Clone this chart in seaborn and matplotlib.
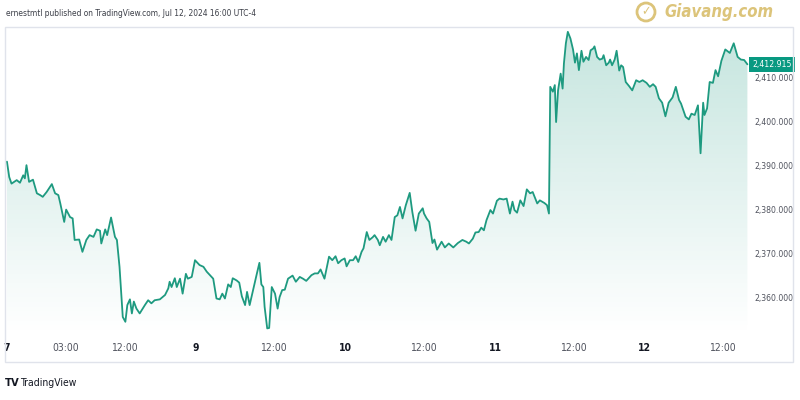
import numpy as np
import pandas as pd
import seaborn as sns
import matplotlib.pyplot as plt
import matplotlib.transforms as mtransforms
from matplotlib.patches import Rectangle, Circle
from matplotlib import font_manager

# Gold spot, trading hours since Jul 7 18:00 (UTC-4), session gaps removed
hours = [0.0, 0.35, 0.7, 1.5, 2.0, 2.5, 2.75, 3.0, 3.4, 4.0, 4.6, 5.1, 5.5, 6.1, 6.9, 7.4, 7.9,
         8.2, 8.8, 9.1, 9.7, 10.1, 10.4, 11.1, 11.6, 12.2, 12.7, 13.3, 13.8, 14.3, 14.5, 15.1,
         15.4, 16.0, 16.6, 16.9, 17.3, 17.8, 18.2, 18.5, 18.9, 19.2, 19.5, 19.9, 20.4, 21.2,
         21.7, 22.2, 22.7, 23.5, 24.3, 24.8, 25.0, 25.3, 25.8, 26.1, 26.6, 27.0, 27.5, 27.8,
         28.4, 28.9, 29.6, 30.2, 30.7, 31.2, 31.7, 32.2, 32.7, 33.1, 33.5, 34.0, 34.4, 34.7,
         35.3, 35.7, 36.1, 36.6, 36.9, 37.3, 37.7, 38.4, 38.8, 39.1, 39.4, 39.6, 40.0, 40.3,
         40.7, 41.2, 41.6, 41.9, 42.3, 42.7, 43.2, 43.9, 44.4, 45.0, 45.5, 46.0, 46.8, 47.3,
         47.8, 48.2, 48.8, 49.5, 50.0, 50.5, 50.9, 51.4, 51.9, 52.2, 52.7, 53.2, 53.6, 54.0,
         54.5, 54.8, 55.3, 55.7, 56.2, 56.5, 57.0, 57.3, 57.8, 58.2, 58.7, 59.1, 59.6, 60.0,
         60.4, 60.8, 61.3, 61.9, 62.3, 62.8, 63.3, 63.9, 64.1, 64.5, 64.9, 65.4, 65.7, 66.1,
         66.8, 67.3, 67.9, 68.6, 69.3, 70.0, 70.6, 71.0, 71.6, 72.0, 72.5, 72.9, 73.3, 73.7,
         74.3, 74.7, 75.3, 75.7, 76.3, 76.8, 77.3, 77.7, 78.0, 78.4, 78.9, 79.4, 79.9, 80.4,
         80.8, 81.5, 81.9, 82.6, 83.0, 83.3, 83.5, 83.9, 84.2, 84.4, 84.7, 85.1, 85.4, 85.6,
         85.9, 86.2, 86.6, 87.0, 87.3, 87.6, 87.9, 88.3, 88.6, 89.0, 89.4, 89.7, 90.1, 90.3,
         90.7, 91.1, 91.5, 91.7, 92.1, 92.5, 92.7, 93.0, 93.4, 93.7, 94.1, 94.4, 94.7, 95.1,
         95.6, 96.1, 96.7, 97.2, 97.7, 98.3, 98.8, 99.3, 99.7, 100.2, 100.7, 101.2, 101.7,
         102.3, 102.8, 103.3, 103.6, 103.9, 104.3, 104.8, 105.2, 105.7, 106.2, 106.6, 107.0,
         107.2, 107.6, 108.0, 108.5, 108.9, 109.3, 109.8, 110.4, 111.1, 111.7, 112.3, 112.8,
         113.3, 113.8]

price = [2390.8, 2387.3, 2385.8, 2386.6, 2386.0, 2387.7, 2387.0, 2390.0, 2386.2, 2386.7, 2383.6,
         2383.2, 2382.8, 2383.9, 2385.7, 2383.6, 2383.2, 2381.3, 2377.1, 2379.9, 2378.2, 2377.9,
         2373.0, 2373.1, 2370.3, 2373.0, 2374.1, 2373.7, 2375.4, 2375.1, 2372.2, 2375.4, 2374.1,
         2378.1, 2373.7, 2373.0, 2366.9, 2355.5, 2354.4, 2358.2, 2359.5, 2356.3, 2359.0, 2357.4,
         2356.3, 2358.2, 2359.3, 2358.6, 2359.3, 2359.5, 2360.5, 2362.0, 2363.5, 2362.3, 2364.3,
         2362.3, 2364.2, 2360.8, 2365.3, 2364.2, 2364.6, 2368.4, 2367.3, 2366.9, 2365.8, 2365.0,
         2364.2, 2359.7, 2359.5, 2360.8, 2359.7, 2362.9, 2362.3, 2364.3, 2363.8, 2363.3, 2360.2,
         2358.2, 2361.2, 2358.2, 2360.8, 2365.3, 2367.8, 2362.9, 2362.3, 2357.8, 2352.9, 2353.0,
         2362.3, 2360.8, 2357.4, 2360.0, 2361.6, 2361.7, 2364.2, 2364.9, 2363.5, 2364.6, 2364.2,
         2363.7, 2365.0, 2365.4, 2365.4, 2366.3, 2364.2, 2369.2, 2368.4, 2369.3, 2367.7, 2368.4,
         2368.8, 2367.0, 2368.4, 2368.4, 2369.3, 2368.0, 2370.3, 2371.1, 2374.8, 2373.0, 2373.6,
         2374.1, 2373.0, 2371.8, 2373.7, 2372.6, 2374.1, 2373.0, 2378.2, 2378.6, 2380.5, 2377.9,
         2380.9, 2383.7, 2379.4, 2375.1, 2379.0, 2380.2, 2379.0, 2377.9, 2377.1, 2372.3, 2373.1,
         2370.8, 2372.6, 2371.3, 2372.2, 2371.3, 2372.3, 2373.0, 2372.6, 2372.2, 2373.3, 2374.7,
         2374.8, 2375.8, 2375.2, 2377.5, 2379.8, 2379.0, 2381.9, 2382.4, 2382.2, 2382.4, 2379.0,
         2381.7, 2379.8, 2379.2, 2382.0, 2380.7, 2384.5, 2383.6, 2383.9, 2381.3, 2382.0, 2381.4,
         2380.9, 2379.0, 2407.8, 2406.7, 2408.2, 2399.8, 2407.0, 2410.8, 2407.4, 2413.1, 2417.7,
         2420.3, 2418.8, 2416.3, 2413.3, 2415.4, 2411.6, 2416.0, 2413.5, 2414.6, 2413.9, 2416.1,
         2416.5, 2417.0, 2414.6, 2414.0, 2414.2, 2415.0, 2412.7, 2413.3, 2414.0, 2412.7, 2414.0,
         2416.0, 2411.5, 2412.7, 2412.3, 2408.9, 2408.0, 2407.0, 2409.3, 2408.9, 2409.3, 2408.7,
         2407.8, 2408.4, 2407.8, 2405.2, 2404.2, 2401.1, 2404.2, 2405.4, 2407.8, 2404.8, 2404.0,
         2402.7, 2401.0, 2400.4, 2401.7, 2401.4, 2403.6, 2392.7, 2404.2, 2401.4, 2402.9, 2408.9,
         2408.7, 2411.6, 2410.2, 2413.7, 2416.3, 2415.5, 2417.7, 2414.6, 2414.0, 2413.9, 2412.915]

tick_hours = [0, 9, 18, 29, 41, 52, 64, 75, 87, 98, 110]
tick_labels = ['7', '03:00', '12:00', '9', '12:00', '10', '12:00', '11', '12:00', '12', '12:00']
price_ticks = [2360, 2370, 2380, 2390, 2400, 2410]

df = pd.DataFrame({'hours': hours, 'price': price})

sns.set_style("white")
# use a narrow face if one is installed
narrow = None
for f in font_manager.fontManager.ttflist:
    if 'Narrow' in f.name or 'Condensed' in f.name or f.stretch in ('condensed', 'semi-condensed'):
        narrow = f.name
        break
plt.rcParams['font.family'] = [narrow, 'DejaVu Sans'] if narrow else ['DejaVu Sans']
plt.rcParams['font.stretch'] = 'condensed'

line_color = '#1e9a80'
ymin, ymax = 2351.4, 2421.4
xmin, xmax = -0.3, 114.2

fig = plt.figure(figsize=(8, 4), dpi=100)
ax = fig.add_axes([5 / 800, 1 - 335 / 400, 745 / 800, 308 / 400])

sns.lineplot(data=df, x='hours', y='price', ax=ax, color=line_color, lw=1.3, zorder=3)

# gradient area under the line
poly = ax.fill_between(df['hours'], df['price'], ymin, facecolor='none', edgecolor='none')
rgba = np.zeros((256, 1, 4))
rgba[..., :3] = np.array([0x1e, 0x9a, 0x80]) / 255
rgba[..., 3] = np.linspace(0.26, 0.0, 256)[:, None]
img = ax.imshow(rgba, extent=[xmin, xmax, ymin, ymax], aspect='auto', origin='upper', zorder=2)
img.set_clip_path(poly.get_paths()[0], transform=ax.transData)

ax.set_xlim(xmin, xmax)
ax.set_ylim(ymin, ymax)
ax.set_xlabel('')
ax.set_ylabel('')
for s in ax.spines.values():
    s.set_visible(False)

ax.set_xticks(tick_hours)
ax.set_xticklabels(tick_labels)
for lab in ax.get_xticklabels():
    if ':' in lab.get_text():
        lab.set_color('#50535e')
    else:
        lab.set_color('#131722')
        lab.set_fontweight('bold')
ax.tick_params(axis='x', length=0, pad=6, labelsize=7.5)

ax.yaxis.tick_right()
ax.set_yticks(price_ticks)
ax.set_yticklabels([f"{p:,.3f}" for p in price_ticks])
ax.tick_params(axis='y', length=0, pad=3.5, labelsize=6.2, labelcolor='#50535e')

# last price tag
blend = mtransforms.blended_transform_factory(ax.transAxes, ax.transData)
ax.text(1.003, price[-1], f"{price[-1]:,.3f}", transform=blend, ha='left', va='center',
        fontsize=6.2, color='white', zorder=10, clip_on=False,
        bbox=dict(boxstyle='square,pad=0.35', fc='#089981', ec='none'))

# panel border
fig.add_artist(Rectangle((5 / 800, 1 - 362 / 400), 788 / 800, 335 / 400, transform=fig.transFigure,
                         fill=False, ec='#e0e3eb', lw=1))

fig.text(6 / 800, 1 - 13 / 400, "ernestmtl published on TradingView.com, Jul 12, 2024 16:00 UTC-4",
         fontsize=6, color='#3c3f48', va='center', ha='left')

# watermark
fig.add_artist(Circle((646, 388), 9, transform=None, fill=False, ec='#dcc47a', lw=2))
fig.text(646 / 800, 1 - 12 / 400, "✓", fontsize=9, color='#dcc47a', ha='center', va='center',
         family=['DejaVu Sans'], fontweight='bold')
fig.text(664 / 800, 1 - 12 / 400, "Giavang.com", fontsize=12, color='#dcc47a', ha='left',
         va='center', fontweight='bold', style='italic', family=['DejaVu Sans'])

fig.text(5 / 800, 1 - 383 / 400, "TV", fontsize=8, fontweight='heavy', color='#131722',
         va='center', ha='left')
fig.text(20 / 800, 1 - 383 / 400, "TradingView", fontsize=7.5, color='#131722', va='center',
         ha='left')

fig.savefig("out.png", dpi=100)
